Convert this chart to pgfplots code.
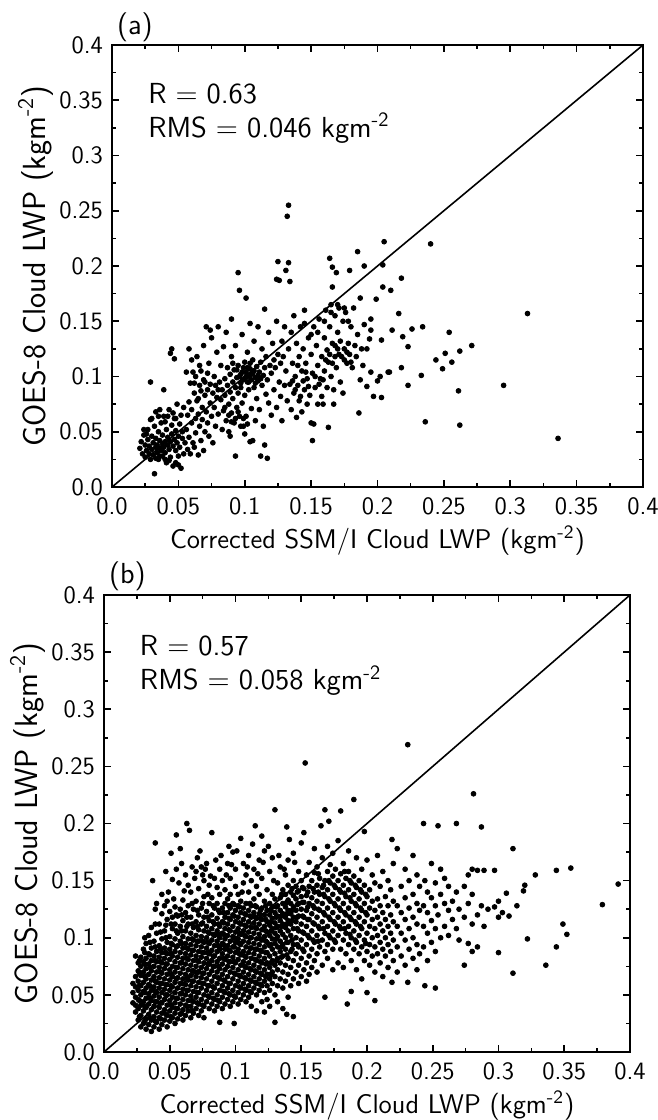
\documentclass[border=0pt]{standalone}
\usepackage{pgfplots}
\pgfplotsset{compat=1.18}
\begin{document}
\begin{tikzpicture}[font=\sffamily\fontsize{14.5}{16}\selectfont]
\useasboundingbox (0pt,0pt) rectangle (329pt,-560pt);
\pgfplotsset{
  lwp/.style={
    scale only axis, anchor=south west, clip mode=individual,
    xmin=0, xmax=0.4, ymin=0, ymax=0.4,
    xtick={0,0.05,0.1,0.15,0.2,0.25,0.3,0.35,0.4},
    ytick={0,0.05,0.1,0.15,0.2,0.25,0.3,0.35,0.4},
    xticklabels={0.0,0.05,0.1,0.15,0.2,0.25,0.3,0.35,0.4},
    yticklabels={0.0,0.05,0.1,0.15,0.2,0.25,0.3,0.35,0.4},
    minor x tick num=1, minor y tick num=1,
    tick align=inside, major tick length=3.5pt, minor tick length=1.8pt,
    axis line style={line width=1.3pt}, every tick/.style={black, line width=0.8pt},
    tick label style={font=\sffamily\fontsize{12.5}{14}\selectfont},
    xticklabel style={yshift=-2pt},
    yticklabel style={xshift=-1pt},
    xlabel={Corrected SSM/I Cloud LWP (kgm\textsuperscript{-2})},
    ylabel={GOES-8 Cloud LWP (kgm\textsuperscript{-2})},
    xlabel style={font=\sffamily\fontsize{13.5}{15}\selectfont, yshift=2pt},
    ylabel style={font=\sffamily\fontsize{16}{18}\selectfont, yshift=-4pt},
  },
  dots/.style={only marks, mark=*, mark size=1.2pt, black},
}
\newcommand{\eq}{\hspace{4.5pt}=\hspace{4.5pt}}

% ---------------- panel (a)
\begin{axis}[lwp, at={(56pt,-243.5pt)}, width=265.5pt, height=221pt]
\addplot[black, line width=0.8pt] coordinates {(0,0) (0.4,0.4)};
\addplot[dots] coordinates {
(0.021,0.035) (0.022,0.041) (0.023,0.030) (0.024,0.047) (0.025,0.038) (0.025,0.027) (0.026,0.033) (0.027,0.052)
(0.027,0.043) (0.028,0.030) (0.028,0.037) (0.029,0.025) (0.029,0.061) (0.030,0.034) (0.030,0.046) (0.031,0.040)
(0.031,0.029) (0.032,0.055) (0.032,0.012) (0.033,0.036) (0.033,0.044) (0.033,0.068) (0.034,0.031) (0.034,0.038)
(0.035,0.050) (0.035,0.025) (0.036,0.035) (0.036,0.042) (0.037,0.058) (0.037,0.033) (0.038,0.039) (0.038,0.028)
(0.038,0.047) (0.039,0.036) (0.039,0.064) (0.040,0.041) (0.040,0.031) (0.041,0.052) (0.041,0.022) (0.042,0.038)
(0.042,0.045) (0.043,0.034) (0.043,0.070) (0.044,0.041) (0.044,0.027) (0.045,0.056) (0.045,0.048) (0.046,0.037)
(0.046,0.019) (0.047,0.043) (0.047,0.062) (0.048,0.033) (0.048,0.051) (0.049,0.040) (0.049,0.075) (0.050,0.046)
(0.050,0.028) (0.051,0.057) (0.051,0.036) (0.052,0.017) (0.052,0.065) (0.053,0.044) (0.053,0.050) (0.054,0.030)
(0.054,0.072) (0.055,0.040)
(0.029,0.095) (0.039,0.088) (0.044,0.121) (0.045,0.125) (0.047,0.116) (0.048,0.062) (0.026,0.048) (0.024,0.052)
(0.030,0.062) (0.035,0.064) (0.036,0.070) (0.040,0.059) (0.042,0.064) (0.046,0.067) (0.050,0.020) (0.048,0.022)
(0.043,0.024) (0.036,0.028) (0.033,0.026) (0.040,0.025)
(0.056,0.052) (0.057,0.034) (0.057,0.065) (0.058,0.077) (0.058,0.045) (0.059,0.094) (0.059,0.030) (0.060,0.058)
(0.060,0.070) (0.061,0.040) (0.061,0.104) (0.062,0.085) (0.062,0.036) (0.063,0.062) (0.063,0.049) (0.064,0.118)
(0.064,0.078) (0.065,0.029) (0.065,0.066) (0.066,0.092) (0.066,0.055) (0.067,0.042) (0.067,0.105) (0.068,0.072)
(0.068,0.061) (0.069,0.097) (0.069,0.033) (0.070,0.083) (0.070,0.050) (0.071,0.145) (0.071,0.068) (0.072,0.088)
(0.072,0.058) (0.073,0.112) (0.073,0.046) (0.074,0.076) (0.074,0.093) (0.075,0.064) (0.075,0.135) (0.076,0.085)
(0.076,0.040) (0.077,0.100) (0.077,0.072) (0.078,0.055) (0.078,0.092) (0.079,0.081) (0.079,0.122) (0.080,0.066)
(0.080,0.145) (0.080,0.088)
(0.056,0.104) (0.058,0.125) (0.060,0.115) (0.063,0.100) (0.066,0.110) (0.069,0.128) (0.070,0.095) (0.072,0.103)
(0.074,0.142) (0.065,0.080) (0.062,0.094) (0.067,0.087)
(0.081,0.095) (0.082,0.079) (0.082,0.110) (0.083,0.052) (0.083,0.088) (0.084,0.127) (0.084,0.069) (0.085,0.098)
(0.085,0.083) (0.086,0.140) (0.086,0.060) (0.087,0.092) (0.087,0.108) (0.088,0.075) (0.088,0.050) (0.089,0.102)
(0.089,0.086) (0.090,0.152) (0.090,0.118) (0.090,0.067) (0.091,0.095) (0.091,0.080) (0.092,0.106) (0.092,0.058)
(0.093,0.090) (0.093,0.128) (0.093,0.028) (0.094,0.099) (0.094,0.072) (0.095,0.194) (0.095,0.110) (0.095,0.085)
(0.096,0.178) (0.096,0.064) (0.097,0.102) (0.097,0.094) (0.098,0.138) (0.098,0.076) (0.099,0.108) (0.099,0.055)
(0.100,0.098) (0.100,0.113) (0.100,0.083) (0.101,0.171) (0.101,0.104) (0.101,0.064) (0.102,0.095) (0.102,0.122)
(0.103,0.100) (0.103,0.088) (0.104,0.148) (0.104,0.041) (0.104,0.107) (0.105,0.097) (0.105,0.071) (0.106,0.115)
(0.106,0.042) (0.106,0.103) (0.107,0.090) (0.107,0.132) (0.108,0.099) (0.108,0.060) (0.109,0.109) (0.109,0.080)
(0.110,0.096) (0.110,0.145) (0.111,0.104) (0.111,0.070) (0.112,0.113) (0.112,0.028) (0.113,0.092) (0.113,0.125)
(0.114,0.101) (0.114,0.055) (0.115,0.161) (0.115,0.108) (0.115,0.038) (0.116,0.084) (0.116,0.118) (0.117,0.026)
(0.117,0.097) (0.118,0.140) (0.118,0.076) (0.119,0.110) (0.120,0.103) (0.120,0.065) (0.121,0.130) (0.122,0.115)
(0.122,0.088) (0.123,0.108) (0.124,0.150) (0.124,0.072) (0.125,0.204) (0.125,0.120) (0.126,0.095) (0.126,0.187)
(0.127,0.112) (0.127,0.082) (0.128,0.132) (0.128,0.060) (0.129,0.118) (0.130,0.092) (0.130,0.145)
(0.096,0.100) (0.098,0.104) (0.099,0.097) (0.101,0.100) (0.102,0.108) (0.103,0.095) (0.105,0.102) (0.107,0.105)
(0.108,0.094) (0.110,0.101) (0.097,0.090) (0.094,0.106) (0.091,0.112) (0.112,0.098) (0.104,0.112)
(0.088,0.065) (0.090,0.059) (0.093,0.062) (0.095,0.068) (0.097,0.055) (0.099,0.062) (0.100,0.048) (0.102,0.057)
(0.085,0.072) (0.089,0.046)
(0.131,0.196) (0.133,0.203) (0.134,0.186) (0.133,0.255) (0.132,0.245) (0.124,0.188)
(0.131,0.105) (0.132,0.078) (0.133,0.125) (0.134,0.093) (0.135,0.140) (0.135,0.070) (0.136,0.112) (0.137,0.085)
(0.137,0.155) (0.138,0.100) (0.139,0.063) (0.139,0.130) (0.140,0.092) (0.141,0.118) (0.141,0.078) (0.142,0.145)
(0.143,0.105) (0.143,0.068) (0.144,0.125) (0.145,0.088) (0.145,0.160) (0.146,0.112) (0.147,0.075) (0.147,0.098)
(0.148,0.135) (0.149,0.083) (0.150,0.120) (0.150,0.058) (0.151,0.042) (0.151,0.103) (0.152,0.057) (0.152,0.145)
(0.153,0.090) (0.154,0.128) (0.155,0.110) (0.155,0.075) (0.156,0.152) (0.157,0.098) (0.158,0.118) (0.158,0.082)
(0.159,0.075) (0.160,0.135) (0.160,0.105) (0.161,0.160) (0.162,0.090) (0.162,0.124) (0.163,0.054) (0.163,0.113)
(0.164,0.207) (0.164,0.145) (0.165,0.100) (0.165,0.165) (0.166,0.199) (0.166,0.181) (0.166,0.130) (0.167,0.075)
(0.167,0.088) (0.168,0.118) (0.168,0.155) (0.169,0.194) (0.169,0.108) (0.170,0.140) (0.170,0.125) (0.171,0.162)
(0.172,0.095) (0.172,0.132) (0.173,0.118) (0.174,0.150) (0.174,0.085) (0.175,0.125) (0.176,0.158) (0.177,0.112)
(0.178,0.130) (0.179,0.196) (0.179,0.120) (0.180,0.145) (0.181,0.108) (0.182,0.162) (0.183,0.128) (0.184,0.118)
(0.185,0.213) (0.185,0.138) (0.186,0.067) (0.187,0.171) (0.187,0.097) (0.188,0.125) (0.189,0.110) (0.190,0.200)
(0.190,0.147)
(0.136,0.096) (0.138,0.088) (0.140,0.110) (0.142,0.082) (0.144,0.096) (0.146,0.104) (0.148,0.091) (0.153,0.100)
(0.156,0.093) (0.159,0.097) (0.161,0.115) (0.164,0.120) (0.166,0.112) (0.168,0.128) (0.171,0.120) (0.175,0.115)
(0.177,0.122) (0.180,0.113)
(0.145,0.148) (0.150,0.138) (0.155,0.140) (0.160,0.150) (0.165,0.158) (0.170,0.165) (0.175,0.162) (0.178,0.150)
(0.192,0.091) (0.194,0.134) (0.195,0.104) (0.195,0.142) (0.195,0.152) (0.197,0.082) (0.200,0.096) (0.202,0.100)
(0.203,0.081) (0.203,0.133) (0.204,0.181) (0.204,0.201) (0.205,0.222) (0.208,0.104) (0.210,0.178) (0.211,0.142)
(0.216,0.157) (0.218,0.108) (0.218,0.189) (0.219,0.136) (0.223,0.092) (0.223,0.127) (0.226,0.143) (0.233,0.101)
(0.234,0.145) (0.236,0.059) (0.240,0.220) (0.244,0.115) (0.249,0.107) (0.251,0.121) (0.254,0.140) (0.256,0.113)
(0.261,0.087) (0.262,0.056) (0.262,0.123) (0.271,0.128) (0.295,0.092) (0.313,0.157) (0.336,0.044)
(0.209,0.104) (0.199,0.170) (0.192,0.125)
};
\node[anchor=west] at (axis cs:0.022,0.356) {R\eq 0.63};
\node[anchor=west] at (axis cs:0.022,0.325) {RMS\eq 0.046 kgm\textsuperscript{-2}};
\node[anchor=south west, inner sep=1pt] at (rel axis cs:0.005,1.003) {(a)};
\end{axis}

% ---------------- panel (b)
\begin{axis}[lwp, at={(52pt,-526pt)}, width=263pt, height=228.5pt]
\addplot[black, line width=0.8pt] coordinates {(0,0) (0.4,0.4)};
\addplot[dots] coordinates {
(0.022,0.052) (0.022,0.060) (0.022,0.043)
(0.024,0.035) (0.024,0.048) (0.024,0.057) (0.024,0.066) (0.024,0.084) (0.024,0.041)
(0.026,0.028) (0.026,0.038) (0.026,0.046) (0.026,0.054) (0.026,0.062) (0.026,0.071) (0.026,0.078)
(0.028,0.022) (0.028,0.032) (0.028,0.041) (0.028,0.050) (0.028,0.058) (0.028,0.067) (0.028,0.075) (0.028,0.083)
(0.030,0.025) (0.030,0.036) (0.030,0.044) (0.030,0.053) (0.030,0.061) (0.030,0.070) (0.030,0.079) (0.030,0.090)
(0.032,0.020) (0.032,0.029) (0.032,0.039) (0.032,0.047) (0.032,0.056) (0.032,0.064) (0.032,0.073) (0.032,0.082) (0.032,0.095)
(0.034,0.024) (0.034,0.033) (0.034,0.042) (0.034,0.051) (0.034,0.059) (0.034,0.068) (0.034,0.077) (0.034,0.086) (0.034,0.102)
(0.036,0.018) (0.036,0.028) (0.036,0.037) (0.036,0.045) (0.036,0.054) (0.036,0.063) (0.036,0.071) (0.036,0.080) (0.036,0.091) (0.036,0.109)
(0.037,0.150)
(0.038,0.022) (0.038,0.031) (0.038,0.040) (0.038,0.049) (0.038,0.057) (0.038,0.066) (0.038,0.075) (0.038,0.084) (0.038,0.097)
(0.039,0.183) (0.039,0.125)
(0.040,0.026) (0.040,0.035) (0.040,0.044) (0.040,0.052) (0.040,0.061) (0.040,0.070) (0.040,0.079) (0.040,0.088) (0.040,0.104) (0.040,0.130)
(0.042,0.020) (0.042,0.030) (0.042,0.039) (0.042,0.048) (0.042,0.056) (0.042,0.065) (0.042,0.074) (0.042,0.083) (0.042,0.093) (0.042,0.112)
(0.044,0.024) (0.044,0.034) (0.044,0.043) (0.044,0.052) (0.044,0.060) (0.044,0.069) (0.044,0.078) (0.044,0.087) (0.044,0.099) (0.044,0.121)
(0.046,0.028) (0.046,0.037) (0.046,0.046) (0.046,0.055) (0.046,0.064) (0.046,0.073) (0.046,0.082) (0.046,0.091) (0.046,0.106) (0.046,0.128)
(0.048,0.022) (0.048,0.032) (0.048,0.041) (0.048,0.050) (0.048,0.059) (0.048,0.068) (0.048,0.077) (0.048,0.086) (0.048,0.096) (0.048,0.116) (0.048,0.132)
(0.050,0.027) (0.050,0.036) (0.050,0.045) (0.050,0.054) (0.050,0.063) (0.050,0.072) (0.050,0.081) (0.050,0.090) (0.050,0.101) (0.050,0.123)
(0.051,0.174) (0.052,0.151) (0.049,0.140)
(0.052,0.030) (0.052,0.039) (0.052,0.048) (0.052,0.057) (0.052,0.066) (0.052,0.075) (0.052,0.084) (0.052,0.094) (0.052,0.108) (0.052,0.118)
(0.054,0.025) (0.054,0.034) (0.054,0.043) (0.054,0.052) (0.054,0.061) (0.054,0.070) (0.054,0.079) (0.054,0.088) (0.054,0.099) (0.054,0.112) (0.054,0.127)
(0.055,0.190) (0.055,0.160)
(0.056,0.029) (0.056,0.038) (0.056,0.047) (0.056,0.056) (0.056,0.065) (0.056,0.074) (0.056,0.083) (0.056,0.093) (0.056,0.104) (0.056,0.119)
(0.058,0.033) (0.058,0.042) (0.058,0.051) (0.058,0.060) (0.058,0.069) (0.058,0.078) (0.058,0.087) (0.058,0.097) (0.058,0.110) (0.058,0.125) (0.058,0.178)
(0.060,0.028) (0.060,0.037) (0.060,0.046) (0.060,0.055) (0.060,0.064) (0.060,0.073) (0.060,0.082) (0.060,0.091) (0.060,0.101) (0.060,0.115) (0.060,0.133)
(0.061,0.141) (0.057,0.148)
(0.062,0.032) (0.062,0.041) (0.062,0.050) (0.062,0.059) (0.062,0.068) (0.062,0.077) (0.062,0.086) (0.062,0.095) (0.062,0.106) (0.062,0.122) (0.062,0.155)
(0.063,0.200)
(0.064,0.036) (0.064,0.045) (0.064,0.054) (0.064,0.063) (0.064,0.072) (0.064,0.081) (0.064,0.090) (0.064,0.099) (0.064,0.112) (0.064,0.128)
(0.065,0.194)
(0.066,0.030) (0.066,0.040) (0.066,0.049) (0.066,0.058) (0.066,0.067) (0.066,0.076) (0.066,0.085) (0.066,0.094) (0.066,0.104) (0.066,0.118) (0.066,0.140)
(0.067,0.162)
(0.068,0.034) (0.068,0.044) (0.068,0.053) (0.068,0.062) (0.068,0.071) (0.068,0.080) (0.068,0.089) (0.068,0.098) (0.068,0.109) (0.068,0.125)
(0.070,0.038) (0.070,0.048) (0.070,0.057) (0.070,0.066) (0.070,0.075) (0.070,0.084) (0.070,0.093) (0.070,0.102) (0.070,0.114) (0.070,0.132) (0.070,0.158)
(0.072,0.032) (0.072,0.042) (0.072,0.052) (0.072,0.061) (0.072,0.070) (0.072,0.079) (0.072,0.088) (0.072,0.097) (0.072,0.107) (0.072,0.120) (0.072,0.143)
(0.074,0.036) (0.074,0.046) (0.074,0.056) (0.074,0.065) (0.074,0.074) (0.074,0.083) (0.074,0.092) (0.074,0.101) (0.074,0.112) (0.074,0.126) (0.074,0.162)
(0.076,0.030) (0.076,0.040) (0.076,0.050) (0.076,0.060) (0.076,0.069) (0.076,0.078) (0.076,0.087) (0.076,0.096) (0.076,0.106) (0.076,0.118) (0.076,0.136) (0.076,0.150)
(0.078,0.044) (0.078,0.054) (0.078,0.064) (0.078,0.073) (0.078,0.082) (0.078,0.091) (0.078,0.100) (0.078,0.110) (0.078,0.123) (0.078,0.165)
(0.080,0.038) (0.080,0.048) (0.080,0.058) (0.080,0.068) (0.080,0.077) (0.080,0.086) (0.080,0.095) (0.080,0.104) (0.080,0.115) (0.080,0.130) (0.080,0.146)
(0.082,0.192) (0.075,0.155) (0.071,0.170) (0.079,0.138)
(0.082,0.042) (0.082,0.052) (0.082,0.062) (0.082,0.071) (0.082,0.080) (0.082,0.089) (0.082,0.098) (0.082,0.108) (0.082,0.120) (0.082,0.135)
(0.084,0.036) (0.084,0.046) (0.084,0.056) (0.084,0.066) (0.084,0.075) (0.084,0.084) (0.084,0.093) (0.084,0.102) (0.084,0.112) (0.084,0.126) (0.084,0.152)
(0.086,0.040) (0.086,0.050) (0.086,0.060) (0.086,0.070) (0.086,0.079) (0.086,0.088) (0.086,0.097) (0.086,0.106) (0.086,0.117) (0.086,0.130) (0.086,0.144)
(0.088,0.026) (0.088,0.044) (0.088,0.054) (0.088,0.064) (0.088,0.073) (0.088,0.082) (0.088,0.091) (0.088,0.100) (0.088,0.110) (0.088,0.122) (0.088,0.138) (0.088,0.160)
(0.090,0.038) (0.090,0.048) (0.090,0.058) (0.090,0.068) (0.090,0.077) (0.090,0.086) (0.090,0.095) (0.090,0.104) (0.090,0.114) (0.090,0.126) (0.090,0.150)
(0.092,0.042) (0.092,0.052) (0.092,0.062) (0.092,0.072) (0.092,0.081) (0.092,0.090) (0.092,0.099) (0.092,0.108) (0.092,0.118) (0.092,0.130) (0.092,0.142)
(0.094,0.046) (0.094,0.056) (0.094,0.066) (0.094,0.075) (0.094,0.084) (0.094,0.093) (0.094,0.102) (0.094,0.112) (0.094,0.122) (0.094,0.134) (0.094,0.165)
(0.095,0.180)
(0.096,0.040) (0.096,0.050) (0.096,0.060) (0.096,0.070) (0.096,0.079) (0.096,0.088) (0.096,0.097) (0.096,0.106) (0.096,0.116) (0.096,0.126) (0.096,0.138) (0.096,0.152)
(0.098,0.044) (0.098,0.054) (0.098,0.064) (0.098,0.074) (0.098,0.083) (0.098,0.092) (0.098,0.101) (0.098,0.110) (0.098,0.120) (0.098,0.130) (0.098,0.175)
(0.099,0.025)
(0.100,0.048) (0.100,0.058) (0.100,0.068) (0.100,0.078) (0.100,0.087) (0.100,0.096) (0.100,0.105) (0.100,0.114) (0.100,0.124) (0.100,0.145) (0.100,0.160)
(0.102,0.042) (0.102,0.052) (0.102,0.062) (0.102,0.072) (0.102,0.081) (0.102,0.090) (0.102,0.099) (0.102,0.108) (0.102,0.118) (0.102,0.128) (0.102,0.138)
(0.104,0.046) (0.104,0.056) (0.104,0.066) (0.104,0.076) (0.104,0.085) (0.104,0.094) (0.104,0.103) (0.104,0.112) (0.104,0.122) (0.104,0.132) (0.104,0.187)
(0.106,0.050) (0.106,0.060) (0.106,0.070) (0.106,0.079) (0.106,0.088) (0.106,0.097) (0.106,0.106) (0.106,0.116) (0.106,0.126) (0.106,0.148) (0.106,0.165)
(0.108,0.044) (0.108,0.054) (0.108,0.064) (0.108,0.074) (0.108,0.083) (0.108,0.092) (0.108,0.101) (0.108,0.110) (0.108,0.120) (0.108,0.130) (0.108,0.155)
(0.110,0.048) (0.110,0.058) (0.110,0.068) (0.110,0.078) (0.110,0.087) (0.110,0.096) (0.110,0.105) (0.110,0.114) (0.110,0.124) (0.110,0.140) (0.110,0.172)
(0.112,0.040) (0.112,0.052) (0.112,0.062) (0.112,0.072) (0.112,0.082) (0.112,0.091) (0.112,0.100) (0.112,0.109) (0.112,0.118) (0.112,0.128) (0.112,0.150)
(0.114,0.056) (0.114,0.066) (0.114,0.076) (0.114,0.086) (0.114,0.095) (0.114,0.104) (0.114,0.113) (0.114,0.122) (0.114,0.134) (0.114,0.160)
(0.115,0.198)
(0.116,0.036) (0.116,0.050) (0.116,0.060) (0.116,0.070) (0.116,0.080) (0.116,0.090) (0.116,0.099) (0.116,0.108) (0.116,0.117) (0.116,0.127) (0.116,0.145)
(0.118,0.054) (0.118,0.064) (0.118,0.074) (0.118,0.084) (0.118,0.094) (0.118,0.103) (0.118,0.112) (0.118,0.121) (0.118,0.138) (0.118,0.168)
(0.120,0.044) (0.120,0.058) (0.120,0.068) (0.120,0.078) (0.120,0.088) (0.120,0.098) (0.120,0.107) (0.120,0.116) (0.120,0.126) (0.120,0.152) (0.120,0.189)
(0.122,0.035) (0.122,0.052) (0.122,0.062) (0.122,0.072) (0.122,0.082) (0.122,0.092) (0.122,0.101) (0.122,0.110) (0.122,0.120) (0.122,0.132) (0.122,0.176)
(0.124,0.046) (0.124,0.058) (0.124,0.068) (0.124,0.078) (0.124,0.087) (0.124,0.096) (0.124,0.105) (0.124,0.114) (0.124,0.124) (0.124,0.142)
(0.126,0.040) (0.126,0.054) (0.126,0.064) (0.126,0.074) (0.126,0.084) (0.126,0.093) (0.126,0.102) (0.126,0.111) (0.126,0.120) (0.126,0.130) (0.126,0.158)
(0.128,0.060) (0.128,0.070) (0.128,0.080) (0.128,0.090) (0.128,0.099) (0.128,0.108) (0.128,0.117) (0.128,0.127) (0.128,0.138) (0.128,0.170)
(0.130,0.026) (0.130,0.050) (0.130,0.066) (0.130,0.076) (0.130,0.086) (0.130,0.095) (0.130,0.104) (0.130,0.113) (0.130,0.122) (0.130,0.134) (0.130,0.212)
(0.132,0.044) (0.132,0.058) (0.132,0.072) (0.132,0.082) (0.132,0.092) (0.132,0.101) (0.132,0.110) (0.132,0.119) (0.132,0.128) (0.132,0.148)
(0.134,0.064) (0.134,0.078) (0.134,0.088) (0.134,0.097) (0.134,0.106) (0.134,0.115) (0.134,0.124) (0.134,0.135) (0.134,0.162)
(0.136,0.038) (0.136,0.056) (0.136,0.070) (0.136,0.084) (0.136,0.094) (0.136,0.103) (0.136,0.112) (0.136,0.121) (0.136,0.130) (0.136,0.142)
(0.138,0.062) (0.138,0.076) (0.138,0.090) (0.138,0.100) (0.138,0.109) (0.138,0.118) (0.138,0.127) (0.138,0.138) (0.138,0.155)
(0.139,0.033) (0.139,0.197)
(0.140,0.048) (0.140,0.068) (0.140,0.082) (0.140,0.096) (0.140,0.106) (0.140,0.115) (0.140,0.124) (0.140,0.133) (0.140,0.146) (0.140,0.168)
(0.142,0.058) (0.142,0.074) (0.142,0.088) (0.142,0.102) (0.142,0.112) (0.142,0.121) (0.142,0.130) (0.142,0.140)
(0.144,0.031) (0.144,0.064) (0.144,0.080) (0.144,0.094) (0.144,0.108) (0.144,0.118) (0.144,0.127) (0.144,0.137) (0.144,0.150) (0.144,0.174)
(0.146,0.070) (0.146,0.086) (0.146,0.100) (0.146,0.114) (0.146,0.124) (0.146,0.134) (0.146,0.145)
(0.148,0.060) (0.148,0.076) (0.148,0.092) (0.148,0.106) (0.148,0.119) (0.148,0.130) (0.148,0.141) (0.148,0.158)
(0.150,0.066) (0.150,0.082) (0.150,0.098) (0.150,0.112) (0.150,0.125) (0.150,0.136) (0.150,0.150) (0.150,0.183)
(0.152,0.072) (0.152,0.088) (0.152,0.104) (0.152,0.118) (0.152,0.131) (0.152,0.143) (0.152,0.192)
(0.153,0.253)
(0.154,0.062) (0.154,0.078) (0.154,0.094) (0.154,0.110) (0.154,0.124) (0.154,0.137) (0.154,0.155)
(0.156,0.068) (0.156,0.084) (0.156,0.100) (0.156,0.116) (0.156,0.130) (0.156,0.145) (0.156,0.166)
(0.158,0.074) (0.158,0.090) (0.158,0.106) (0.158,0.121) (0.158,0.135) (0.158,0.150)
(0.160,0.080) (0.160,0.096) (0.160,0.112) (0.160,0.126) (0.160,0.140) (0.160,0.157) (0.160,0.178)
(0.162,0.070) (0.162,0.086) (0.162,0.102) (0.162,0.118) (0.162,0.132) (0.162,0.146) (0.162,0.162)
(0.164,0.092) (0.164,0.108) (0.164,0.124) (0.164,0.138) (0.164,0.152)
(0.165,0.198)
(0.166,0.076) (0.166,0.098) (0.166,0.114) (0.166,0.130) (0.166,0.144) (0.166,0.170)
(0.168,0.048) (0.168,0.088) (0.168,0.104) (0.168,0.120) (0.168,0.136) (0.168,0.150) (0.168,0.212)
(0.170,0.082) (0.170,0.094) (0.170,0.110) (0.170,0.126) (0.170,0.142) (0.170,0.158) (0.170,0.180)
(0.171,0.202)
(0.172,0.100) (0.172,0.116) (0.172,0.132) (0.172,0.148) (0.172,0.164)
(0.174,0.072) (0.174,0.090) (0.174,0.106) (0.174,0.122) (0.174,0.138) (0.174,0.154) (0.174,0.174)
(0.176,0.096) (0.176,0.112) (0.176,0.128) (0.176,0.144) (0.176,0.160)
(0.178,0.078) (0.178,0.102) (0.178,0.118) (0.178,0.134) (0.178,0.150) (0.178,0.185)
(0.180,0.090) (0.180,0.108) (0.180,0.124) (0.180,0.140) (0.180,0.156) (0.180,0.211)
(0.182,0.074) (0.182,0.098) (0.182,0.114) (0.182,0.130) (0.182,0.146) (0.182,0.165)
(0.184,0.086) (0.184,0.104) (0.184,0.120) (0.184,0.136) (0.184,0.152)
(0.185,0.042)
(0.186,0.094) (0.186,0.110) (0.186,0.126) (0.186,0.142) (0.186,0.158) (0.186,0.176)
(0.188,0.053) (0.188,0.080) (0.188,0.100) (0.188,0.116) (0.188,0.132) (0.188,0.148)
(0.190,0.090) (0.190,0.106) (0.190,0.122) (0.190,0.138) (0.190,0.154) (0.190,0.221)
(0.192,0.072) (0.192,0.096) (0.192,0.112) (0.192,0.128) (0.192,0.144) (0.192,0.170)
(0.194,0.086) (0.194,0.102) (0.194,0.118) (0.194,0.134) (0.194,0.150)
(0.196,0.064) (0.196,0.092) (0.196,0.108) (0.196,0.124) (0.196,0.140) (0.196,0.160)
(0.198,0.080) (0.198,0.098) (0.198,0.114) (0.198,0.130) (0.198,0.146) (0.198,0.193)
(0.200,0.052) (0.200,0.088) (0.200,0.104) (0.200,0.120) (0.200,0.136) (0.200,0.168)
(0.202,0.076) (0.202,0.094) (0.202,0.110) (0.202,0.126) (0.202,0.142)
(0.204,0.084) (0.204,0.100) (0.204,0.116) (0.204,0.132) (0.204,0.155)
(0.206,0.045) (0.206,0.070) (0.206,0.092) (0.206,0.108) (0.206,0.124) (0.206,0.148)
(0.208,0.086) (0.208,0.102) (0.208,0.118) (0.208,0.134) (0.208,0.172)
(0.210,0.078) (0.210,0.096) (0.210,0.112) (0.210,0.128) (0.210,0.145)
(0.212,0.066) (0.212,0.090) (0.212,0.106) (0.212,0.122) (0.212,0.158)
(0.214,0.084) (0.214,0.100) (0.214,0.116) (0.214,0.136)
(0.216,0.074) (0.216,0.094) (0.216,0.110) (0.216,0.128) (0.216,0.150)
(0.218,0.088) (0.218,0.104) (0.218,0.120) (0.218,0.142)
(0.219,0.061) (0.219,0.186)
(0.220,0.080) (0.220,0.098) (0.220,0.114) (0.220,0.132) (0.220,0.165)
(0.223,0.070) (0.223,0.092) (0.223,0.110) (0.223,0.128) (0.223,0.178)
(0.226,0.084) (0.226,0.104) (0.226,0.122) (0.226,0.145)
(0.229,0.076) (0.229,0.098) (0.229,0.116) (0.229,0.135) (0.229,0.160)
(0.231,0.061) (0.231,0.269)
(0.232,0.090) (0.232,0.108) (0.232,0.126) (0.232,0.150)
(0.235,0.082) (0.235,0.100) (0.235,0.118) (0.235,0.138) (0.235,0.172)
(0.238,0.072) (0.238,0.094) (0.238,0.112) (0.238,0.130) (0.238,0.155)
(0.240,0.086) (0.240,0.124) (0.240,0.145)
(0.243,0.092) (0.243,0.110) (0.243,0.128) (0.243,0.200)
(0.244,0.058) (0.244,0.150)
(0.246,0.080) (0.246,0.104) (0.246,0.122) (0.246,0.140)
(0.249,0.096) (0.249,0.115) (0.249,0.135) (0.249,0.165)
(0.252,0.056) (0.252,0.088) (0.252,0.108) (0.252,0.128) (0.252,0.148)
(0.254,0.198) (0.254,0.120)
(0.256,0.100) (0.256,0.138) (0.256,0.160)
(0.259,0.110) (0.259,0.130) (0.259,0.152)
(0.262,0.102) (0.262,0.124) (0.262,0.145)
(0.265,0.116) (0.265,0.132)
(0.268,0.108) (0.268,0.200) (0.268,0.140)
(0.270,0.098) (0.270,0.125)
(0.274,0.076) (0.274,0.118) (0.274,0.145)
(0.277,0.095) (0.277,0.130) (0.277,0.155)
(0.280,0.088) (0.280,0.112) (0.280,0.138) (0.280,0.160)
(0.281,0.226)
(0.284,0.092) (0.284,0.120) (0.284,0.159)
(0.287,0.197) (0.287,0.128)
(0.289,0.159) (0.289,0.110)
(0.292,0.125)
(0.297,0.159) (0.297,0.127)
(0.300,0.087) (0.300,0.118) (0.300,0.132)
(0.303,0.122) (0.306,0.139) (0.308,0.119) (0.311,0.069) (0.311,0.178) (0.314,0.128) (0.319,0.141) (0.320,0.146)
(0.322,0.099) (0.328,0.155) (0.336,0.076) (0.344,0.092) (0.344,0.159) (0.349,0.112) (0.352,0.103) (0.355,0.161)
(0.379,0.129) (0.391,0.147)
};
% second pass over the dense core and the band along the diagonal
\addplot[dots] coordinates {
(0.027,0.031) (0.027,0.045) (0.027,0.058) (0.027,0.069) (0.027,0.080)
(0.031,0.027) (0.031,0.040) (0.031,0.052) (0.031,0.066) (0.031,0.077) (0.031,0.087) (0.031,0.100)
(0.035,0.030) (0.035,0.047) (0.035,0.058) (0.035,0.074) (0.035,0.085) (0.035,0.096)
(0.039,0.027) (0.039,0.044) (0.039,0.053) (0.039,0.062) (0.039,0.080) (0.039,0.092) (0.039,0.112)
(0.043,0.029) (0.043,0.043) (0.043,0.060) (0.043,0.070) (0.043,0.079) (0.043,0.090) (0.043,0.105)
(0.047,0.033) (0.047,0.050) (0.047,0.059) (0.047,0.077) (0.047,0.087) (0.047,0.100) (0.047,0.111)
(0.051,0.031) (0.051,0.041) (0.051,0.058) (0.051,0.068) (0.051,0.086) (0.051,0.095) (0.051,0.112)
(0.055,0.038) (0.055,0.047) (0.055,0.064) (0.055,0.074) (0.055,0.092) (0.055,0.106) (0.055,0.120)
(0.059,0.034) (0.059,0.051) (0.059,0.060) (0.059,0.078) (0.059,0.095) (0.059,0.106) (0.059,0.120)
(0.063,0.040) (0.063,0.054) (0.063,0.065) (0.063,0.082) (0.063,0.091) (0.063,0.110) (0.063,0.118)
(0.067,0.036) (0.067,0.045) (0.067,0.062) (0.067,0.071) (0.067,0.089) (0.067,0.099) (0.067,0.112) (0.067,0.130)
(0.071,0.043) (0.071,0.052) (0.071,0.070) (0.071,0.080) (0.071,0.097) (0.071,0.110) (0.071,0.124)
(0.075,0.041) (0.075,0.060) (0.075,0.069) (0.075,0.087) (0.075,0.097) (0.075,0.113) (0.075,0.130)
(0.079,0.049) (0.079,0.058) (0.079,0.077) (0.079,0.087) (0.079,0.096) (0.079,0.105) (0.079,0.118)
(0.083,0.047) (0.083,0.057) (0.083,0.075) (0.083,0.084) (0.083,0.103) (0.083,0.114) (0.083,0.128)
(0.087,0.045) (0.087,0.065) (0.087,0.075) (0.087,0.093) (0.087,0.103) (0.087,0.112) (0.087,0.124)
(0.091,0.053) (0.091,0.063) (0.091,0.082) (0.091,0.094) (0.091,0.103) (0.091,0.113) (0.091,0.122)
(0.095,0.051) (0.095,0.060) (0.095,0.079) (0.095,0.089) (0.095,0.107) (0.095,0.117) (0.095,0.128)
(0.099,0.049) (0.099,0.069) (0.099,0.079) (0.099,0.092) (0.099,0.100) (0.099,0.119) (0.099,0.129)
(0.103,0.057) (0.103,0.067) (0.103,0.086) (0.103,0.095) (0.103,0.104) (0.103,0.113) (0.103,0.127)
(0.107,0.055) (0.107,0.065) (0.107,0.075) (0.107,0.084) (0.107,0.102) (0.107,0.111) (0.107,0.121)
(0.111,0.053) (0.111,0.063) (0.111,0.073) (0.111,0.091) (0.111,0.100) (0.111,0.119) (0.111,0.130)
(0.115,0.061) (0.115,0.071) (0.115,0.081) (0.115,0.090) (0.115,0.109) (0.115,0.118) (0.115,0.128)
(0.119,0.059) (0.119,0.069) (0.119,0.079) (0.119,0.089) (0.119,0.099) (0.119,0.117) (0.119,0.124)
(0.123,0.066) (0.123,0.077) (0.123,0.087) (0.123,0.097) (0.123,0.106) (0.123,0.116) (0.123,0.128)
(0.127,0.068) (0.127,0.078) (0.127,0.094) (0.127,0.106) (0.127,0.114) (0.127,0.124)
(0.131,0.080) (0.131,0.099) (0.131,0.109) (0.131,0.118) (0.131,0.127)
(0.135,0.083) (0.135,0.092) (0.135,0.110) (0.135,0.119) (0.135,0.138)
(0.139,0.085) (0.139,0.096) (0.139,0.112) (0.139,0.121) (0.139,0.131)
(0.143,0.090) (0.143,0.098) (0.143,0.115) (0.143,0.124) (0.143,0.143)
(0.147,0.094) (0.147,0.108) (0.147,0.118) (0.147,0.129) (0.147,0.140)
(0.151,0.090) (0.151,0.105) (0.151,0.119) (0.151,0.131) (0.151,0.144)
(0.155,0.102) (0.155,0.116) (0.155,0.127) (0.155,0.140)
(0.159,0.098) (0.159,0.113) (0.159,0.128) (0.159,0.143)
(0.163,0.097) (0.163,0.110) (0.163,0.125) (0.163,0.140) (0.163,0.156)
(0.167,0.108) (0.167,0.122) (0.167,0.138) (0.167,0.146)
(0.171,0.102) (0.171,0.118) (0.171,0.134) (0.171,0.150)
(0.175,0.098) (0.175,0.114) (0.175,0.130) (0.175,0.146)
(0.179,0.110) (0.179,0.126) (0.179,0.142)
(0.183,0.108) (0.183,0.122) (0.183,0.139) (0.183,0.158)
(0.187,0.103) (0.187,0.118) (0.187,0.135) (0.187,0.150)
(0.191,0.098) (0.191,0.114) (0.191,0.130) (0.191,0.146)
(0.195,0.110) (0.195,0.126) (0.195,0.142)
(0.199,0.095) (0.199,0.122) (0.199,0.138)
(0.044,0.138) (0.047,0.158) (0.053,0.134) (0.059,0.165) (0.064,0.146) (0.069,0.152) (0.073,0.176) (0.077,0.160)
(0.081,0.154) (0.085,0.168) (0.089,0.172) (0.093,0.155) (0.097,0.164) (0.101,0.176) (0.105,0.140) (0.109,0.162)
(0.113,0.182) (0.117,0.156) (0.121,0.166) (0.125,0.180) (0.129,0.150) (0.133,0.172) (0.137,0.160) (0.141,0.186)
(0.145,0.166)
};
\node[anchor=west] at (axis cs:0.022,0.356) {R\eq 0.57};
\node[anchor=west] at (axis cs:0.022,0.325) {RMS\eq 0.058 kgm\textsuperscript{-2}};
\node[anchor=south west, inner sep=1pt] at (rel axis cs:0.005,1.003) {(b)};
\end{axis}
\end{tikzpicture}
\end{document}
